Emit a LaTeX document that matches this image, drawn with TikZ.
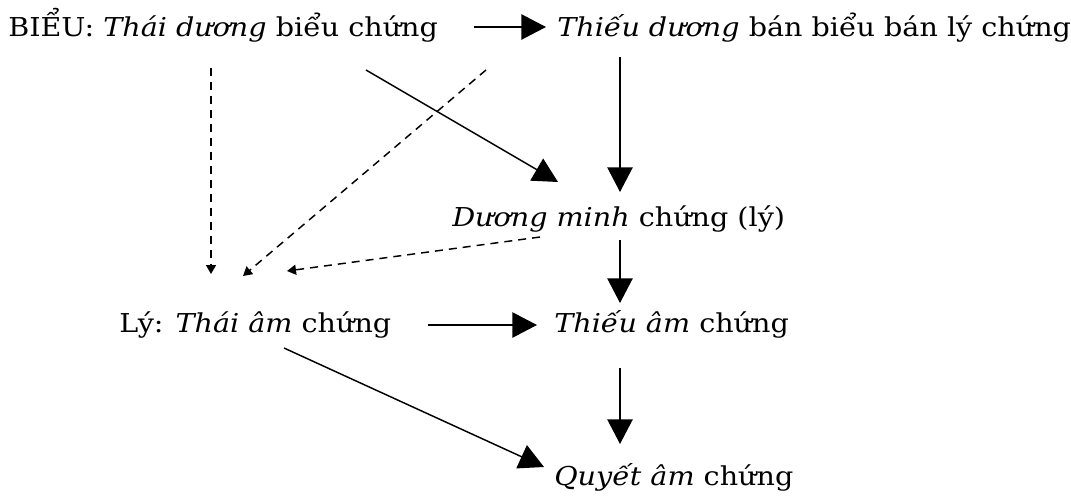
\documentclass[tikz,border=0pt]{standalone}
\usepackage{fontspec}
\setmainfont{DejaVu Serif}[FakeStretch=1.10]
\usetikzlibrary{arrows.meta}
\begin{document}
\begin{tikzpicture}[x=0.75pt,y=-0.75pt,
  txt/.style={inner sep=0pt,anchor=base west,font=\fontsize{19.5}{22}\selectfont},
  big/.style={line width=1.1pt,-{Triangle[length=18.5pt,width=19pt]}},
  dsh/.style={line width=1.1pt,dash pattern=on 6pt off 4.5pt,-{Triangle[length=6.75pt,width=7.5pt]}}]
\useasboundingbox (0,0) rectangle (1071,497);
\node[txt] (A) at (8,36) {BIỂU: \textit{Thái dương} biểu chứng};
\node[txt] (B) at (557,36) {\textit{Thiếu dương} bán biểu bán lý chứng};
\node[txt] (C) at (452,226) {\textit{Dương minh} chứng (lý)};
\node[txt] (D) at (119,332) {Lý: \textit{Thái âm} chứng};
\node[txt] (E) at (554,332) {\textit{Thiếu âm} chứng};
\node[txt] (F) at (554,485) {\textit{Quyết âm} chứng};
\coordinate (a1) at (474,27);
\coordinate (b1) at (546,27);
\coordinate (a2) at (211,68);
\coordinate (d2) at (211,274);
\coordinate (a3) at (486,70);
\coordinate (d3) at (243,276);
\coordinate (a4) at (366,70);
\coordinate (c4) at (558,182);
\coordinate (b5) at (620,57);
\coordinate (c5) at (620,192);
\coordinate (c6) at (540,237);
\coordinate (d6) at (287,271);
\coordinate (c7) at (620,240);
\coordinate (e7) at (620,303);
\coordinate (d8) at (428,325);
\coordinate (e8) at (537,325);
\coordinate (e9) at (620,368);
\coordinate (f9) at (620,444);
\coordinate (d10) at (284,348);
\coordinate (f10) at (544,467);
\draw[big] (a1) -- (b1);
\draw[dsh] (a2) -- (d2);
\draw[dsh] (a3) -- (d3);
\draw[big] (a4) -- (c4);
\draw[big] (b5) -- (c5);
\draw[dsh] (c6) -- (d6);
\draw[big] (c7) -- (e7);
\draw[big] (d8) -- (e8);
\draw[big] (e9) -- (f9);
\draw[big] (d10) -- (f10);
\end{tikzpicture}
\end{document}
